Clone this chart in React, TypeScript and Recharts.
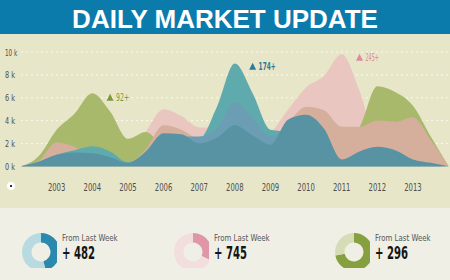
import React from 'react';
import { AreaChart, Area, XAxis, YAxis, CartesianGrid, ReferenceDot, PieChart, Pie, Cell } from 'recharts';

// half-year steps, 2002 .. 2014
const years = [2002, 2002.5, 2003, 2003.5, 2004, 2004.5, 2005, 2005.5, 2006, 2006.5, 2007, 2007.5, 2008, 2008.5, 2009, 2009.5, 2010, 2010.5, 2011, 2011.5, 2012, 2012.5, 2013, 2013.5, 2014];

// values in thousands
const pinkLight = [0, 0.3, 1.5, 1.5, 1.0, 0.8, 0.6, 3.0, 5.0, 4.4, 3.4, 3.4, 3.0, 2.5, 3.0, 5.0, 6.9, 7.9, 9.8, 6.6, 2.0, 1.5, 1.0, 0.5, 0];
const green = [0, 0.9, 3.2, 4.6, 6.4, 4.8, 2.4, 3.0, 1.8, 1.5, 1.5, 1.5, 1.5, 1.5, 1.5, 1.5, 2.0, 2.0, 2.0, 3.4, 7.0, 6.5, 5.3, 2.6, 0];
const salmon = [0, 0.5, 2.1, 1.7, 1.0, 0.8, 0.3, 1.5, 3.6, 3.2, 2.3, 2.0, 2.0, 2.0, 2.0, 3.8, 5.2, 4.9, 3.45, 3.45, 4.0, 3.9, 4.3, 2.3, 0];
const teal = [0, 0.4, 1.0, 1.4, 1.75, 1.3, 0.35, 1.0, 2.4, 2.6, 2.4, 5.2, 9.0, 6.4, 3.2, 3.0, 2.5, 1.5, 0.4, 0.5, 0.8, 0.8, 0.3, 0.1, 0];
const midBlue = [0, 0.3, 0.8, 1.0, 1.0, 0.6, 0.2, 1.0, 2.0, 2.6, 2.6, 3.3, 5.6, 4.2, 2.6, 3.0, 2.5, 1.5, 0.4, 0.5, 0.8, 0.8, 0.3, 0.1, 0];
const base = [0, 0.4, 1.0, 1.2, 1.15, 0.8, 0.3, 1.3, 2.9, 2.8, 2.0, 2.5, 3.6, 2.7, 1.9, 4.1, 4.5, 3.3, 0.6, 1.3, 1.7, 1.4, 0.6, 0.3, 0];

const yTicks = [0, 2, 4, 6, 8, 10];

const donutLabels = ['+ 482', '+ 745', '+ 296'];
const donutShares = [46, 32, 72];
const donutColors = [
  { main: '#2b89ad', light: '#b7dbe1' },
  { main: '#df97a8', light: '#f1dedd' },
  { main: '#87a03f', light: '#d6ddb6' },
];

const data = years.map((year, i) => ({
  year,
  pinkLight: pinkLight[i],
  green: green[i],
  salmon: salmon[i],
  teal: teal[i],
  midBlue: midBlue[i],
  base: base[i],
}));

const narrow = '"Liberation Sans Narrow", "DejaVu Sans Condensed", "Open Sans", sans-serif';

const XTick = ({ x, y, payload }: any) => {
  const v = payload.value;
  if (v === 2002 || v === 2014) return null;
  return (
    <text x={x - 8.75} y={y} dy={16.5} textLength={17.5} lengthAdjust="spacingAndGlyphs" fill="#4e4e4e" fontSize={10.5} fontFamily={narrow}>
      {v}
    </text>
  );
};

const YTick = ({ y, payload }: any) => {
  const label = `${payload.value} k`;
  return (
    <text x={5} y={y} dy={3.5} textLength={label.length > 3 ? 12.3 : 10} lengthAdjust="spacingAndGlyphs" fill="#4e4e4e" fontSize={9} fontFamily={narrow}>
      {label}
    </text>
  );
};

const note = (label: string, color: string, width: number, bold: boolean) => (p: any) => (
  <g>
    <path d={`M${p.cx - 3.5},${p.cy + 3} L${p.cx + 3.5},${p.cy + 3} L${p.cx},${p.cy - 4} Z`} fill={color} />
    <text x={p.cx + 6} y={p.cy + 3.5} textLength={width} lengthAdjust="spacingAndGlyphs" fill={color} fontSize={10} fontWeight={bold ? 700 : 400} fontFamily={narrow}>
      {label}
    </text>
  </g>
);

function Donut({ share, colors, label, left }: { share: number; colors: { main: string; light: string }; label: string; left: number }) {
  const parts = [{ name: 'a', value: share }, { name: 'b', value: 100 - share }];
  return (
    <div style={{ position: 'absolute', left, top: 18 }}>
      <PieChart width={42} height={42}>
        <Pie
          data={parts}
          dataKey="value"
          cx={21}
          cy={21}
          innerRadius={9.5}
          outerRadius={19}
          startAngle={90}
          endAngle={-270}
          stroke="none"
          isAnimationActive={false}
        >
          <Cell fill={colors.main} />
          <Cell fill={colors.light} />
        </Pie>
      </PieChart>
      <svg width={80} height={40} style={{ position: 'absolute', left: 47, top: 0 }}>
        <text x={0} y={14.7} textLength={55.7} lengthAdjust="spacingAndGlyphs" fontSize={9.2} fill="#555" fontFamily={narrow}>
          From Last Week
        </text>
        <text x={0} y={33.3} textLength={33} lengthAdjust="spacingAndGlyphs" fontSize={17} fontWeight={700} fill="#151515" fontFamily={narrow}>
          {label}
        </text>
      </svg>
    </div>
  );
}

export default function App() {
  return (
    <div style={{ position: 'absolute', left: 0, top: 0, width: 450, height: 280, background: '#efefe6', overflow: 'hidden' }}>
      <div style={{ position: 'absolute', left: 0, top: 0, width: 450, height: 34, background: '#0b7bab' }}>
        <div style={{ position: 'absolute', left: 0, top: 6.3, width: 450, textAlign: 'center', color: '#fff', fontSize: 26, lineHeight: 1, fontWeight: 700, fontFamily: '"Liberation Sans", Arial, sans-serif' }}>
          DAILY MARKET UPDATE
        </div>
      </div>

      <div style={{ position: 'absolute', left: 0, top: 34, width: 450, height: 174, background: '#e8e6c9' }}>
        <AreaChart width={450} height={174} data={data} margin={{ top: 18, right: 1.4, left: 0, bottom: 0 }}>
          <CartesianGrid vertical={false} stroke="#ffffff" strokeOpacity={0.75} strokeDasharray="2 3" />
          <XAxis dataKey="year" interval={1} axisLine={false} tickLine={false} height={41.7} tick={<XTick />} />
          <YAxis domain={[0, 10]} ticks={yTicks} interval={0} width={21} axisLine={false} tickLine={false} tick={<YTick />} />
          <Area type="monotone" dataKey="pinkLight" stroke="none" fill="#e9c6c0" fillOpacity={1} isAnimationActive={false} />
          <Area type="monotone" dataKey="green" stroke="none" fill="#a8b96b" fillOpacity={1} isAnimationActive={false} />
          <Area type="monotone" dataKey="salmon" stroke="none" fill="#d5ae9c" fillOpacity={1} isAnimationActive={false} />
          <Area type="monotone" dataKey="teal" stroke="none" fill="#5faaad" fillOpacity={1} isAnimationActive={false} />
          <Area type="monotone" dataKey="midBlue" stroke="none" fill="#6b9db4" fillOpacity={1} isAnimationActive={false} />
          <Area type="monotone" dataKey="base" stroke="none" fill="#5893a3" fillOpacity={1} isAnimationActive={false} />
          <ReferenceDot x={2004.5} y={6} r={0} shape={note('92+', '#7c9a3c', 13, false)} />
          <ReferenceDot x={2008.5} y={8.7} r={0} shape={note('174+', '#2a7b9c', 17, true)} />
          <ReferenceDot x={2011.5} y={9.5} r={0} shape={note('245+', '#d98c9c', 13.3, false)} />
        </AreaChart>
        <div style={{ position: 'absolute', left: 7, top: 148, width: 8, height: 8, borderRadius: 4, background: '#fff' }}>
          <div style={{ position: 'absolute', left: 3, top: 3, width: 2, height: 2, background: '#333' }} />
        </div>
      </div>

      <div style={{ position: 'absolute', left: 0, top: 208, width: 450, height: 72 }}>
        {donutShares.map((share, i) => (
          <Donut key={i} share={share} colors={donutColors[i]} label={donutLabels[i]} left={[15, 167, 328][i]} />
        ))}
      </div>
    </div>
  );
}
